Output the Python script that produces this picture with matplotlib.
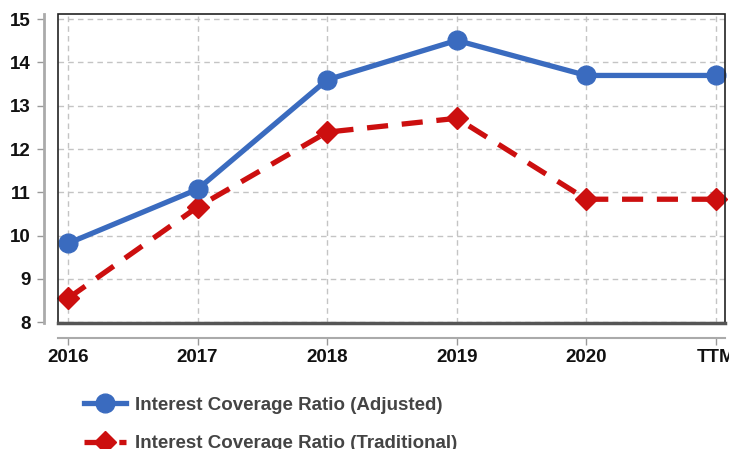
import matplotlib.pyplot as plt
from matplotlib.patches import Rectangle

plt.rcParams['font.family'] = ['Liberation Sans', 'DejaVu Sans']

years = ['2016', '2017', '2018', '2019', '2020', 'TTM']
adjusted = [9.82, 11.07, 13.6, 14.51, 13.7, 13.7]
traditional = [8.55, 10.66, 12.39, 12.71, 10.84, 10.84]
yticks = [8, 9, 10, 11, 12, 13, 14, 15]

blue = '#3a6bbf'
red = '#cc0f0f'

fig = plt.figure(figsize=(7.29, 4.49), dpi=100)
ax = fig.add_axes([58/729, 1-323/449, 667/729, 309/449])

x = list(range(len(years)))
ax.plot(x, adjusted, color=blue, lw=3.8, marker='o', ms=13.5,
        label='Interest Coverage Ratio (Adjusted)', zorder=4, clip_on=False)
ax.plot(x, traditional, color=red, lw=3.8, marker='D', ms=11,
        dashes=(4, 2.6), label='Interest Coverage Ratio (Traditional)', zorder=3, clip_on=False)

ax.set_xlim(-0.077, 5.07)
ax.set_ylim(7.98, 15.12)
ax.set_xticks(x)
ax.set_xticklabels(years)
ax.set_yticks(yticks)

ax.grid(True, color='#c4c4c4', linestyle=(0, (4, 3)), linewidth=1)
ax.set_axisbelow(True)

# offset axis lines like the original
for s in ['top', 'right']:
    ax.spines[s].set_visible(False)
ax.spines['left'].set_position(('outward', 10))
ax.spines['bottom'].set_position(('outward', 11))
ax.spines['left'].set_color('#aaaaaa')
ax.spines['bottom'].set_color('#aaaaaa')
ax.spines['left'].set_linewidth(2)
ax.spines['bottom'].set_linewidth(1.5)
ax.tick_params(axis='both', colors='#999999', length=5, width=1,
               labelcolor='#111111', labelsize=13.5)
ax.tick_params(axis='x', pad=2.5)
ax.tick_params(axis='y', pad=4.5)
for lab in ax.get_xticklabels() + ax.get_yticklabels():
    lab.set_fontweight('bold')

# plot frame
ax.add_patch(Rectangle((0, 0), 1, 1, transform=ax.transAxes, fill=False,
                       edgecolor='#222222', lw=1.2, zorder=5, clip_on=False))
ax.plot([0, 1], [0, 0], transform=ax.transAxes, color='#555555', lw=2.5,
        zorder=5, clip_on=False)

leg = fig.legend(loc='upper left', bbox_to_anchor=(67/729, 1-380/449),
                 frameon=False, handlelength=2.25, handletextpad=0.5,
                 labelspacing=1.12, prop={'weight': 'bold', 'size': 13.5})
for t in leg.get_texts():
    t.set_color('#444444')

fig.savefig('out.png', dpi=100)
